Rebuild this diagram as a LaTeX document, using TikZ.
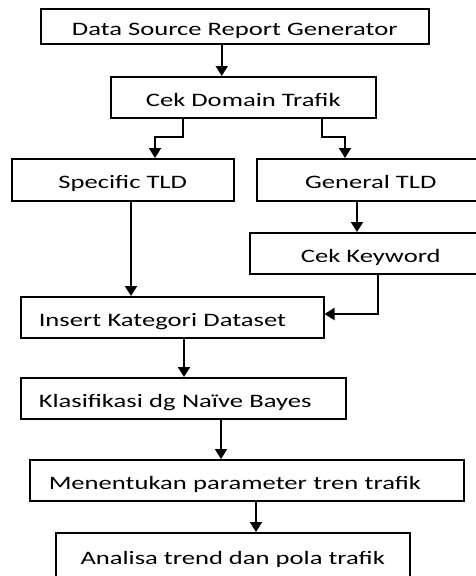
\documentclass[tikz,border=0pt]{standalone}
\usepackage{fontspec}
\setmainfont[FakeStretch=1.4]{Carlito}
\usetikzlibrary{arrows.meta,calc}
\begin{document}
\begin{tikzpicture}[x=1pt,y=-1pt,
  box/.style={draw, line width=1.5pt, inner sep=0pt, anchor=north west,
    text height=19pt, text depth=0.8pt,
    font=\fontsize{19}{22}\selectfont},
  leftbox/.style={box, inner xsep=#1, align=left},
  arr/.style={line width=2pt, -{Triangle[length=10pt,width=12pt]}}]
\clip (0,0) rectangle (476,576);

% process boxes
\node[box, minimum width=388pt, minimum height=35pt] (src) at (40,8) {Data Source Report Generator};
\node[box, minimum width=265pt, minimum height=41pt] (dom) at (110,76) {Cek Domain Trafik};
\node[box, minimum width=222pt, minimum height=42pt] (spec) at (11,158) {Specific TLD};
\node[box, minimum width=228pt, minimum height=42pt] (gen) at (256,158) {General TLD};
\node[box, minimum width=242pt, minimum height=41pt] (kw) at (249,232) {Cek Keyword};
\node[leftbox=18pt, text width=267pt, minimum height=41pt] (ins) at (20,296) {Insert Kategori Dataset};
\node[leftbox=18pt, text width=289pt, minimum height=41pt] (nb) at (20,377) {Klasifikasi dg Naïve Bayes};
\node[leftbox=19pt, text width=396pt, minimum height=41pt] (par) at (29,459) {Menentukan parameter tren trafik};
\node[box, minimum width=354pt, minimum height=46pt] (ana) at (55,532) {Analisa trend dan pola trafik};

% bend and routing points
\coordinate (k1) at (183,137);
\coordinate (k2) at (155,137);
\coordinate (k3) at (322,137);
\coordinate (k4) at (345,137);
\coordinate (k5) at (357,215);
\coordinate (k6) at (131,250);
\coordinate (k7) at (378,314);
\coordinate (k8) at (184,357);
\coordinate (k9) at (221,438);
\coordinate (k10) at (256,516);

% connectors
\draw[arr] ([xshift=-13pt]src.south) -- ([xshift=-13pt]src.south |- dom.north);
\draw[arr] (dom.south -| k1) -- (k1) -- (k2) -- (k2 |- spec.north);
\draw[arr] (dom.south -| k3) -- (k3) -- (k4) -- (k4 |- gen.north);
\draw[arr] (gen.south -| k5) -- (kw.north -| k5);
\draw[arr] (spec.south -| k6) -- (ins.north -| k6);
\draw[arr] (kw.south -| k7) -- (k7) -- (ins.east |- k7);
\draw[arr] (ins.south -| k8) -- (nb.north -| k8);
\draw[arr] (nb.south -| k9) -- (par.north -| k9);
\draw[arr] (par.south -| k10) -- (ana.north -| k10);
\end{tikzpicture}
\end{document}
